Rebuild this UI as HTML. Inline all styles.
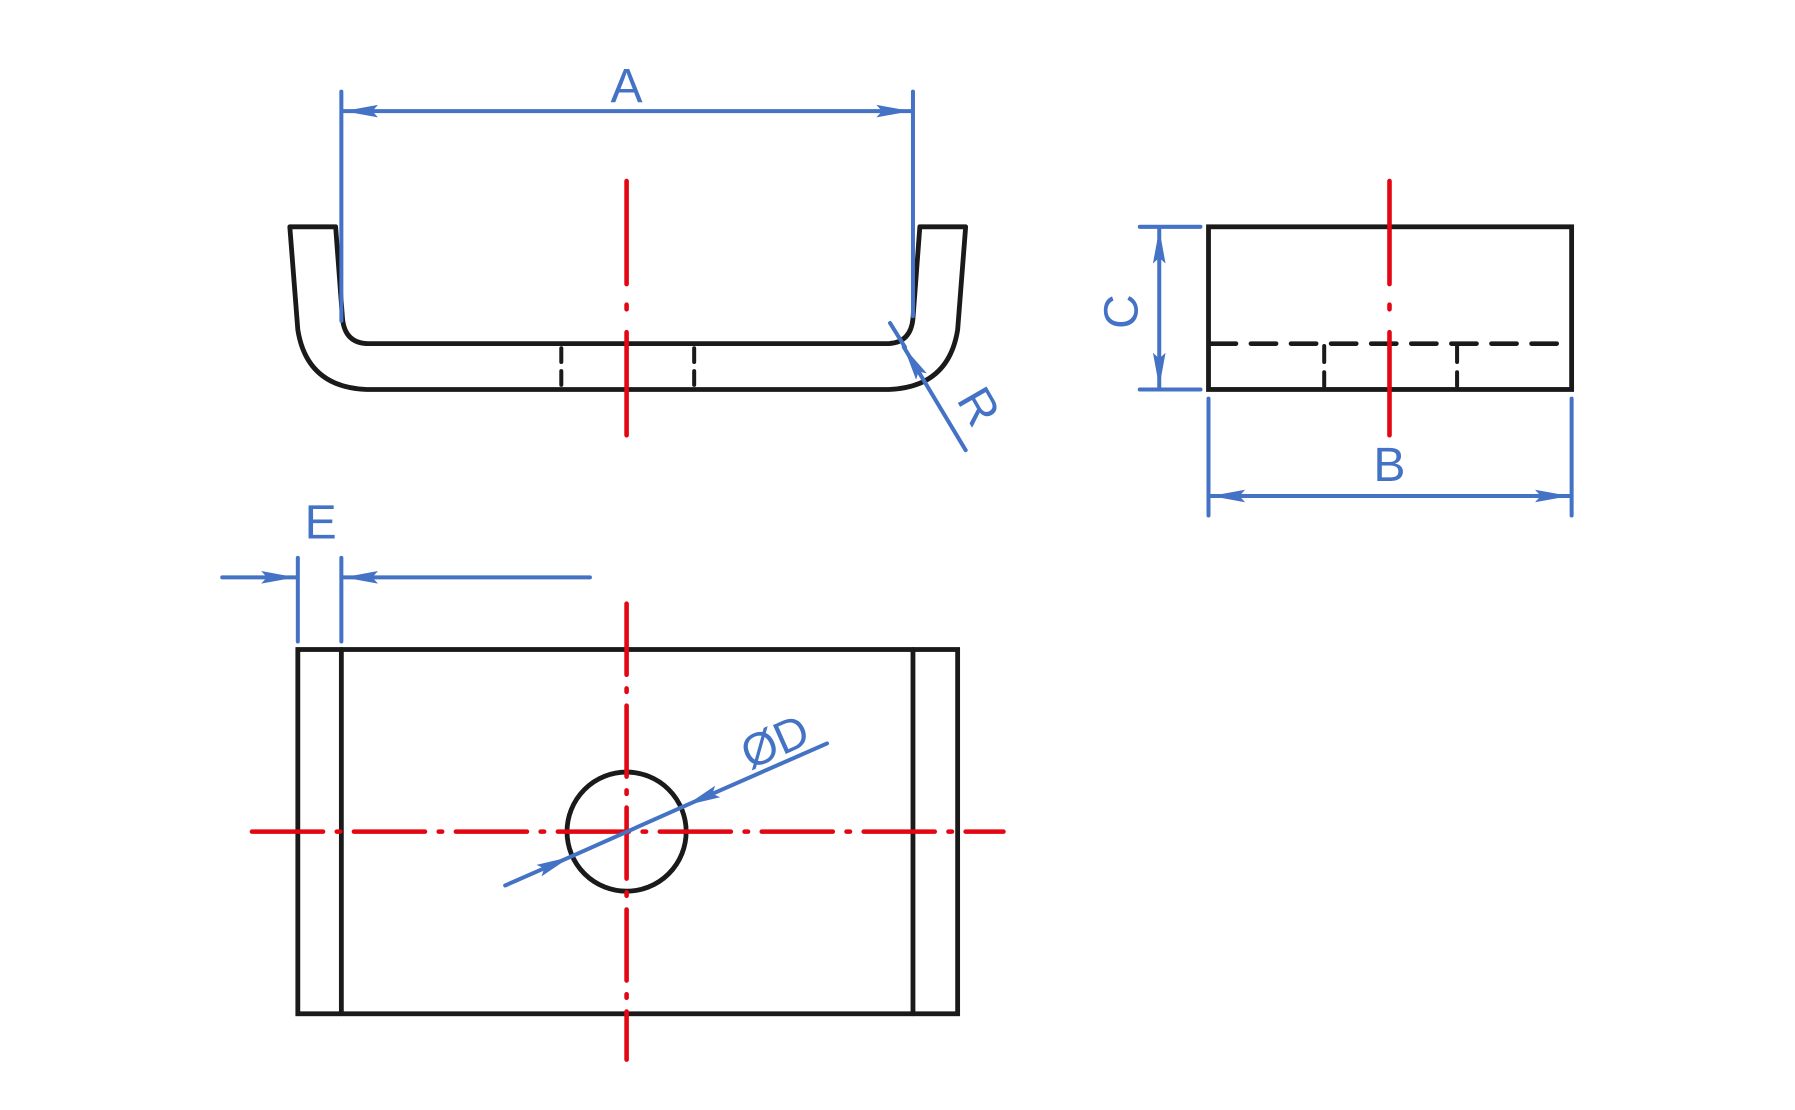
<!DOCTYPE html>
<html><head><meta charset="utf-8"><style>html,body{margin:0;padding:0;background:#fff}svg{display:block}</style></head>
<body>
<svg width="1795" height="1110" viewBox="0 0 1567 969" preserveAspectRatio="none" xmlns="http://www.w3.org/2000/svg">
<defs>
<marker id="ar" viewBox="0 0 30 12" refX="30" refY="6" markerWidth="30" markerHeight="12" markerUnits="userSpaceOnUse" orient="auto-start-reverse">
<path d="M0,0.5 L30,6 L0,11.5 L5,6 Z" fill="#4472c4"/></marker>
</defs>
<g fill="none" stroke-linecap="round">
<path d="M253,198 L293,198 L299,278 Q301,300 322,300 L774,300 Q795,300 797,278 L803,198 L843,198 L836,288 Q828,338 776,340 L320,340 Q268,338 260,288 Z" stroke="#1a1a1a" stroke-width="4.2" stroke-linejoin="round"/>
<path d="M490,304 V336 M606,304 V336" stroke="#1a1a1a" stroke-width="3.5" stroke-dasharray="12 8"/>
<path d="M547,158 V248 M547,266 V270 M547,290 V380" stroke="#e30613" stroke-width="4"/>
<path d="M298,80 V280 M797,80 V276" stroke="#4472c4" stroke-width="3.5"/>
<path d="M300,97 L795,97" stroke="#4472c4" stroke-width="3.5" marker-start="url(#ar)" marker-end="url(#ar)"/>
<path d="M843,393 L789,303" stroke="#4472c4" stroke-width="3.5" marker-end="url(#ar)"/>
<path d="M777,282 L790,303" stroke="#4472c4" stroke-width="3.5"/>
<rect x="1055" y="198" width="317" height="142" stroke="#1a1a1a" stroke-width="4.2"/>
<path d="M1057,300 H1370" stroke="#1a1a1a" stroke-width="4" stroke-dasharray="22 13"/>
<path d="M1156,302 V337 M1272,302 V337" stroke="#1a1a1a" stroke-width="3.5" stroke-dasharray="14 9"/>
<path d="M1213,158 V248 M1213,266 V270 M1213,290 V380" stroke="#e30613" stroke-width="4"/>
<path d="M995,198 H1048 M995,340 H1048" stroke="#4472c4" stroke-width="3.5"/>
<path d="M1012,200 V338" stroke="#4472c4" stroke-width="3.5" marker-start="url(#ar)" marker-end="url(#ar)"/>
<path d="M1055,348 V450 M1372,348 V450" stroke="#4472c4" stroke-width="3.5"/>
<path d="M1057,433 H1370" stroke="#4472c4" stroke-width="3.5" marker-start="url(#ar)" marker-end="url(#ar)"/>
<rect x="260" y="567" width="576" height="318" stroke="#1a1a1a" stroke-width="4.2"/>
<path d="M298,567 V885 M797,567 V885" stroke="#1a1a1a" stroke-width="4.2"/>
<circle cx="547" cy="726" r="52" stroke="#1a1a1a" stroke-width="4.2"/>
<path d="M220,726 H876" stroke="#e30613" stroke-width="4" stroke-dasharray="62 12 3 12"/>
<path d="M547,527 V925" stroke="#e30613" stroke-width="4" stroke-dasharray="62 12 3 12"/>
<path d="M260,487 V560 M298,487 V560" stroke="#4472c4" stroke-width="3.5"/>
<path d="M194,504 H258" stroke="#4472c4" stroke-width="3.5" marker-end="url(#ar)"/>
<path d="M515,504 H300" stroke="#4472c4" stroke-width="3.5" marker-end="url(#ar)"/>
<path d="M441,773 L498,748" stroke="#4472c4" stroke-width="3.5" marker-end="url(#ar)"/>
<path d="M498,748 L599,703" stroke="#4472c4" stroke-width="3.5"/>
<path d="M722,649 L599,703" stroke="#4472c4" stroke-width="3.5" marker-end="url(#ar)"/>
</g>
<g fill="#4472c4" font-family="'Liberation Sans', sans-serif" font-size="42" text-anchor="middle">
<text x="547" y="89">A</text>
<text x="1213" y="420">B</text>
<text x="280" y="470">E</text>
<text transform="translate(993,272) rotate(-90)">C</text>
<text transform="translate(842,362) rotate(60)">R</text>
<text transform="translate(682,660) rotate(-24)" font-size="40">ØD</text>
</g>
</svg>
</body></html>
